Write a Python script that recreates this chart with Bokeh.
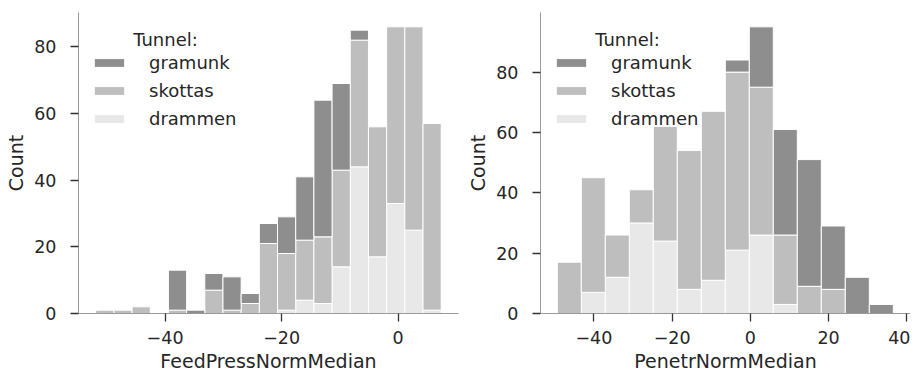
from bokeh.plotting import figure
from bokeh.models import Range1d, FixedTicker, Legend, LegendItem, Label, ColumnDataSource
from bokeh.layouts import row
from bokeh.embed import file_html
from bokeh.resources import INLINE

# ---------------- data ----------------
tunnels = ["gramunk", "skottas", "drammen"]
tunnel_colors = {"gramunk": "#8e8e8e", "skottas": "#bebebe", "drammen": "#e8e8e8"}

# FeedPressNormMedian histogram (19 bins)
feed_edges = [-51.90, -48.78, -45.66, -42.54, -39.42, -36.30, -33.18, -30.06,
              -26.94, -23.82, -20.70, -17.58, -14.46, -11.34, -8.22, -5.10,
              -1.98, 1.14, 4.26, 7.38]
feed_gramunk = [0, 0, 0, 0, 12, 1, 5, 10, 3, 6, 11, 19, 41, 26, 3, 0, 0, 0, 0]
feed_skottas = [1, 1, 2, 0, 1, 0, 7, 1, 3, 21, 17, 18, 20, 29, 38, 39, 53, 61, 56]
feed_drammen = [0, 0, 0, 0, 0, 0, 0, 0, 0, 0, 1, 4, 3, 14, 44, 17, 33, 25, 1]

# PenetrNormMedian histogram (14 bins)
pen_edges = [-49.35, -43.21, -37.08, -30.94, -24.81, -18.67, -12.53, -6.40,
             -0.26, 5.87, 12.01, 18.15, 24.28, 30.42, 36.56]
pen_gramunk = [0, 0, 0, 0, 0, 0, 0, 4, 20, 35, 42, 21, 12, 3]
pen_skottas = [17, 38, 14, 11, 38, 46, 56, 59, 49, 23, 9, 8, 0, 0]
pen_drammen = [0, 7, 12, 30, 24, 8, 11, 21, 26, 3, 0, 0, 0, 0]

feed_xticks = [-40, -20, 0]
pen_xticks = [-40, -20, 0, 20, 40]
yticks = [0, 20, 40, 60, 80]

TEXT = "#262626"
FONT = "DejaVu Sans"
FS_TICK = "17.5px"
FS_LEG = "18px"
FS_LABEL = "19px"


def tick_text(v):
    return ("\u2212" + str(abs(v))) if v < 0 else str(v)


def make_hist(edges, counts, xr, yr, xticks, xlabel, width, border_left, border_right):
    p = figure(width=width, height=374, x_range=Range1d(*xr), y_range=Range1d(*yr),
               output_backend="svg", toolbar_location=None,
               min_border_left=border_left, min_border_right=border_right,
               min_border_top=12, min_border_bottom=61)
    p.outline_line_color = None
    p.xgrid.visible = False
    p.ygrid.visible = False
    p.background_fill_color = "white"

    n = len(edges) - 1
    lefts = edges[:-1]
    rights = edges[1:]
    base = [0] * n
    rends = {}
    for t in ["drammen", "skottas", "gramunk"]:
        c = counts[t]
        idx = [i for i in range(n) if c[i] > 0]
        src = ColumnDataSource(dict(
            left=[lefts[i] for i in idx],
            right=[rights[i] for i in idx],
            bottom=[base[i] for i in idx],
            top=[base[i] + c[i] for i in idx],
        ))
        rends[t] = p.quad(left="left", right="right", bottom="bottom", top="top",
                          source=src, fill_color=tunnel_colors[t],
                          line_color="white", line_width=1)
        base = [b + v for b, v in zip(base, c)]

    p.xaxis.ticker = FixedTicker(ticks=xticks)
    p.xaxis.major_label_overrides = {v: tick_text(v) for v in xticks}
    p.yaxis.ticker = FixedTicker(ticks=yticks)
    p.xaxis.axis_label = xlabel
    p.yaxis.axis_label = "Count"

    for ax in (p.xaxis[0], p.yaxis[0]):
        ax.axis_line_color = "#9a9a9a"
        ax.axis_line_width = 1
        ax.major_tick_line_color = "#333333"
        ax.major_tick_line_width = 1.3
        ax.major_tick_out = 8
        ax.major_tick_in = 0
        ax.minor_tick_line_color = None
        ax.major_label_text_font = FONT
        ax.major_label_text_font_size = FS_TICK
        ax.major_label_text_color = TEXT
        ax.axis_label_text_font = FONT
        ax.axis_label_text_font_size = FS_LABEL
        ax.axis_label_text_font_style = "normal"
        ax.axis_label_text_color = TEXT
    p.xaxis.major_label_standoff = 9
    p.xaxis.axis_label_standoff = 3
    p.yaxis.major_label_standoff = 14
    p.yaxis.axis_label_standoff = 4

    legend = Legend(
        items=[LegendItem(label=t, renderers=[rends[t]]) for t in tunnels],
        location=(12, 184), margin=0, padding=0, spacing=7,
        label_height=20, glyph_height=11, glyph_width=38, label_standoff=21,
        background_fill_alpha=0, border_line_alpha=0,
        label_text_font=FONT, label_text_font_size=FS_LEG, label_text_color=TEXT,
    )
    p.add_layout(legend)
    p.add_layout(Label(x=87, y=274, x_units="screen", y_units="screen",
                       text="Tunnel:", text_align="center", text_baseline="middle",
                       text_font=FONT, text_font_size=FS_LEG, text_color=TEXT))
    return p


p1 = make_hist(feed_edges,
               {"gramunk": feed_gramunk, "skottas": feed_skottas, "drammen": feed_drammen},
               (-54.85, 10.35), (0, 90.3), feed_xticks, "FeedPressNormMedian", 461, 78, 3)
p2 = make_hist(pen_edges,
               {"gramunk": pen_gramunk, "skottas": pen_skottas, "drammen": pen_drammen},
               (-53.65, 40.95), (0, 99.75), pen_xticks, "PenetrNormMedian", 449, 79, 0)

layout = row(p1, p2)
open("out.html", "w").write(file_html(layout, INLINE))
